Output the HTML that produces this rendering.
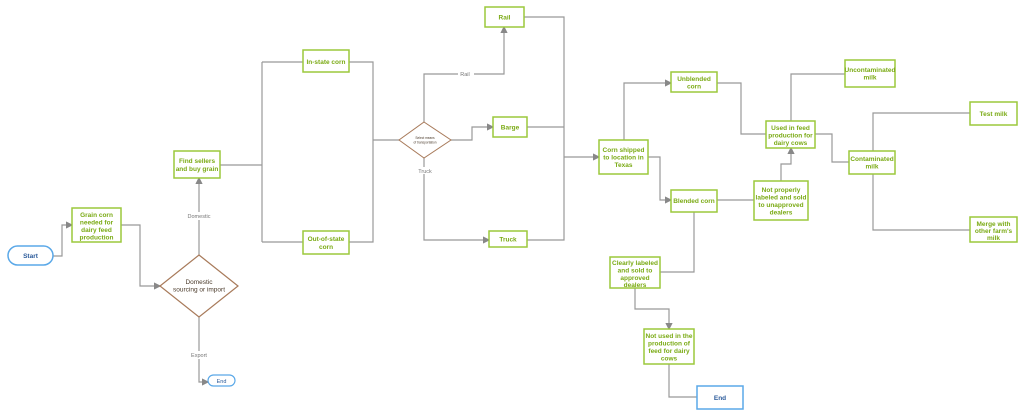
<!DOCTYPE html>
<html><head><meta charset="utf-8"><style>
body{margin:0;background:#fff;width:1024px;height:417px;overflow:hidden}
svg{display:block}
text{font-family:"Liberation Sans",sans-serif;text-anchor:middle}
.b{fill:#fff;stroke:#9cc83c;stroke-width:1.5}
.t{fill:#7aaa14;font-size:6.5px;font-weight:bold}
.l{fill:none;stroke:#999;stroke-width:1.2}
.lab{fill:#777;font-size:5.5px}
</style></head><body>
<svg width="1024" height="417" viewBox="0 0 1024 417">
<defs><marker id="a" markerWidth="6" markerHeight="6" refX="5" refY="3" orient="auto"><path d="M0,0L6,3L0,6z" fill="#888"/></marker></defs>
<!-- connectors -->
<path class="l" d="M53,256H62V225H72" marker-end="url(#a)"/>
<path class="l" d="M121,225H140V286H160" marker-end="url(#a)"/>
<path class="l" d="M199,255V178" marker-end="url(#a)"/>
<path class="l" d="M199,317V382H208" marker-end="url(#a)"/>
<path class="l" d="M220,165H262M262,62V242M262,62H303M262,242H303"/>
<path class="l" d="M349,62H373V242H349M373,140H399"/>
<path class="l" d="M424,122V74H504V27" marker-end="url(#a)"/>
<path class="l" d="M451,140H472V127H493" marker-end="url(#a)"/>
<path class="l" d="M424,158V240H489" marker-end="url(#a)"/>
<path class="l" d="M524,17H564V240H527M527,127H564M564,157H599" marker-end="url(#a)"/>
<path class="l" d="M624,140V83H671" marker-end="url(#a)"/>
<path class="l" d="M648,157H660V200H671" marker-end="url(#a)"/>
<path class="l" d="M717,83H741V134H766"/>
<path class="l" d="M717,200H754"/>
<path class="l" d="M781,181V164H791V148" marker-end="url(#a)"/>
<path class="l" d="M791,121V74H845"/>
<path class="l" d="M815,134H832V162H849"/>
<path class="l" d="M873,151V113H970M873,174V230H970"/>
<path class="l" d="M694,212V272H660"/>
<path class="l" d="M635,288V309H669V329" marker-end="url(#a)"/>
<path class="l" d="M669,364V397H697"/>
<!-- nodes -->
<rect x="8" y="246" width="45" height="19" rx="9.5" fill="#fff" stroke="#5aa8e8" stroke-width="1.5"/>
<text x="30.5" y="258" font-size="6.5" font-weight="bold" fill="#2a5a9a">Start</text>
<rect class="b" x="72" y="208" width="49" height="34"/>
<text class="t" x="96.5" y="217">Grain corn</text><text class="t" x="96.5" y="224.5">needed for</text><text class="t" x="96.5" y="232">dairy feed</text><text class="t" x="96.5" y="239.5">production</text>
<path d="M199,255L238,286L199,317L160,286z" fill="#fff" stroke="#a87a5a" stroke-width="1.2"/>
<text x="199" y="284" font-size="6.5" fill="#4a3a2a">Domestic</text><text x="199" y="291.5" font-size="6.5" fill="#4a3a2a">sourcing or import</text>
<rect x="181" y="212" width="36" height="8" fill="#fff"/><text class="lab" x="199" y="218">Domestic</text>
<rect x="186" y="351" width="26" height="8" fill="#fff"/><text class="lab" x="199" y="357">Export</text>
<rect x="208" y="375" width="27" height="11" rx="5.5" fill="#fff" stroke="#5aa8e8" stroke-width="1.2"/>
<text x="221.5" y="383" font-size="5.5" fill="#2a5a9a">End</text>
<rect class="b" x="174" y="151" width="46" height="27"/>
<text class="t" x="197" y="163">Find sellers</text><text class="t" x="197" y="171">and buy grain</text>
<rect class="b" x="303" y="50" width="46" height="22"/><text class="t" x="326" y="64">In-state corn</text>
<rect class="b" x="303" y="231" width="46" height="23"/>
<text class="t" x="326" y="241">Out-of-state</text><text class="t" x="326" y="249">corn</text>
<path d="M424,122L451,140L424,158L399,140z" fill="#fff" stroke="#a87a5a" stroke-width="1"/>
<text x="425" y="139" font-size="3.2" fill="#4a3a2a">Select means</text><text x="425" y="143.5" font-size="3.2" fill="#4a3a2a">of transportation</text>
<rect x="458" y="70" width="16" height="7" fill="#fff"/><text class="lab" x="465" y="76">Rail</text>
<rect x="415" y="167" width="20" height="7" fill="#fff"/><text class="lab" x="425" y="173">Truck</text>
<rect class="b" x="485" y="7" width="39" height="20"/><text class="t" x="504.5" y="19.5">Rail</text>
<rect class="b" x="493" y="117" width="34" height="20"/><text class="t" x="510" y="129.5">Barge</text>
<rect class="b" x="489" y="231" width="38" height="16"/><text class="t" x="508" y="241.5">Truck</text>
<rect class="b" x="599" y="140" width="49" height="34"/>
<text class="t" x="623.5" y="152">Corn shipped</text><text class="t" x="623.5" y="159.5">to location in</text><text class="t" x="623.5" y="167">Texas</text>
<rect class="b" x="671" y="72" width="46" height="20"/>
<text class="t" x="694" y="81">Unblended</text><text class="t" x="694" y="88.5">corn</text>
<rect class="b" x="671" y="190" width="46" height="22"/><text class="t" x="694" y="203">Blended corn</text>
<rect class="b" x="766" y="121" width="49" height="27"/>
<text class="t" x="790.5" y="130">Used in feed</text><text class="t" x="790.5" y="137.5">production for</text><text class="t" x="790.5" y="145">dairy cows</text>
<rect class="b" x="845" y="60" width="50" height="27"/>
<text class="t" x="870" y="72">Uncontaminated</text><text class="t" x="870" y="79.5">milk</text>
<rect class="b" x="970" y="102" width="47" height="23"/><text class="t" x="993.5" y="116">Test  milk</text>
<rect class="b" x="849" y="151" width="46" height="23"/>
<text class="t" x="872" y="161">Contaminated</text><text class="t" x="872" y="168.5">milk</text>
<rect class="b" x="970" y="217" width="47" height="25"/>
<text class="t" x="993.5" y="226">Merge with</text><text class="t" x="993.5" y="233">other farm's</text><text class="t" x="993.5" y="240">milk</text>
<rect class="b" x="754" y="181" width="54" height="39"/>
<text class="t" x="781" y="192">Not properly</text><text class="t" x="781" y="199.5">labeled  and sold</text><text class="t" x="781" y="207">to unapproved</text><text class="t" x="781" y="214.5">dealers</text>
<rect class="b" x="610" y="257" width="50" height="31"/>
<text class="t" x="635" y="265">Clearly labeled</text><text class="t" x="635" y="272.5">and sold to</text><text class="t" x="635" y="280">approved</text><text class="t" x="635" y="287">dealers</text>
<rect class="b" x="644" y="329" width="50" height="35"/>
<text class="t" x="669" y="338">Not used in the</text><text class="t" x="669" y="345.5">production of</text><text class="t" x="669" y="353">feed for dairy</text><text class="t" x="669" y="360.5">cows</text>
<rect x="697" y="386" width="46" height="23" fill="#fff" stroke="#5aa8e8" stroke-width="1.5"/>
<text x="720" y="400" font-size="6.5" font-weight="bold" fill="#2a5a9a">End</text>
</svg>
</body></html>
